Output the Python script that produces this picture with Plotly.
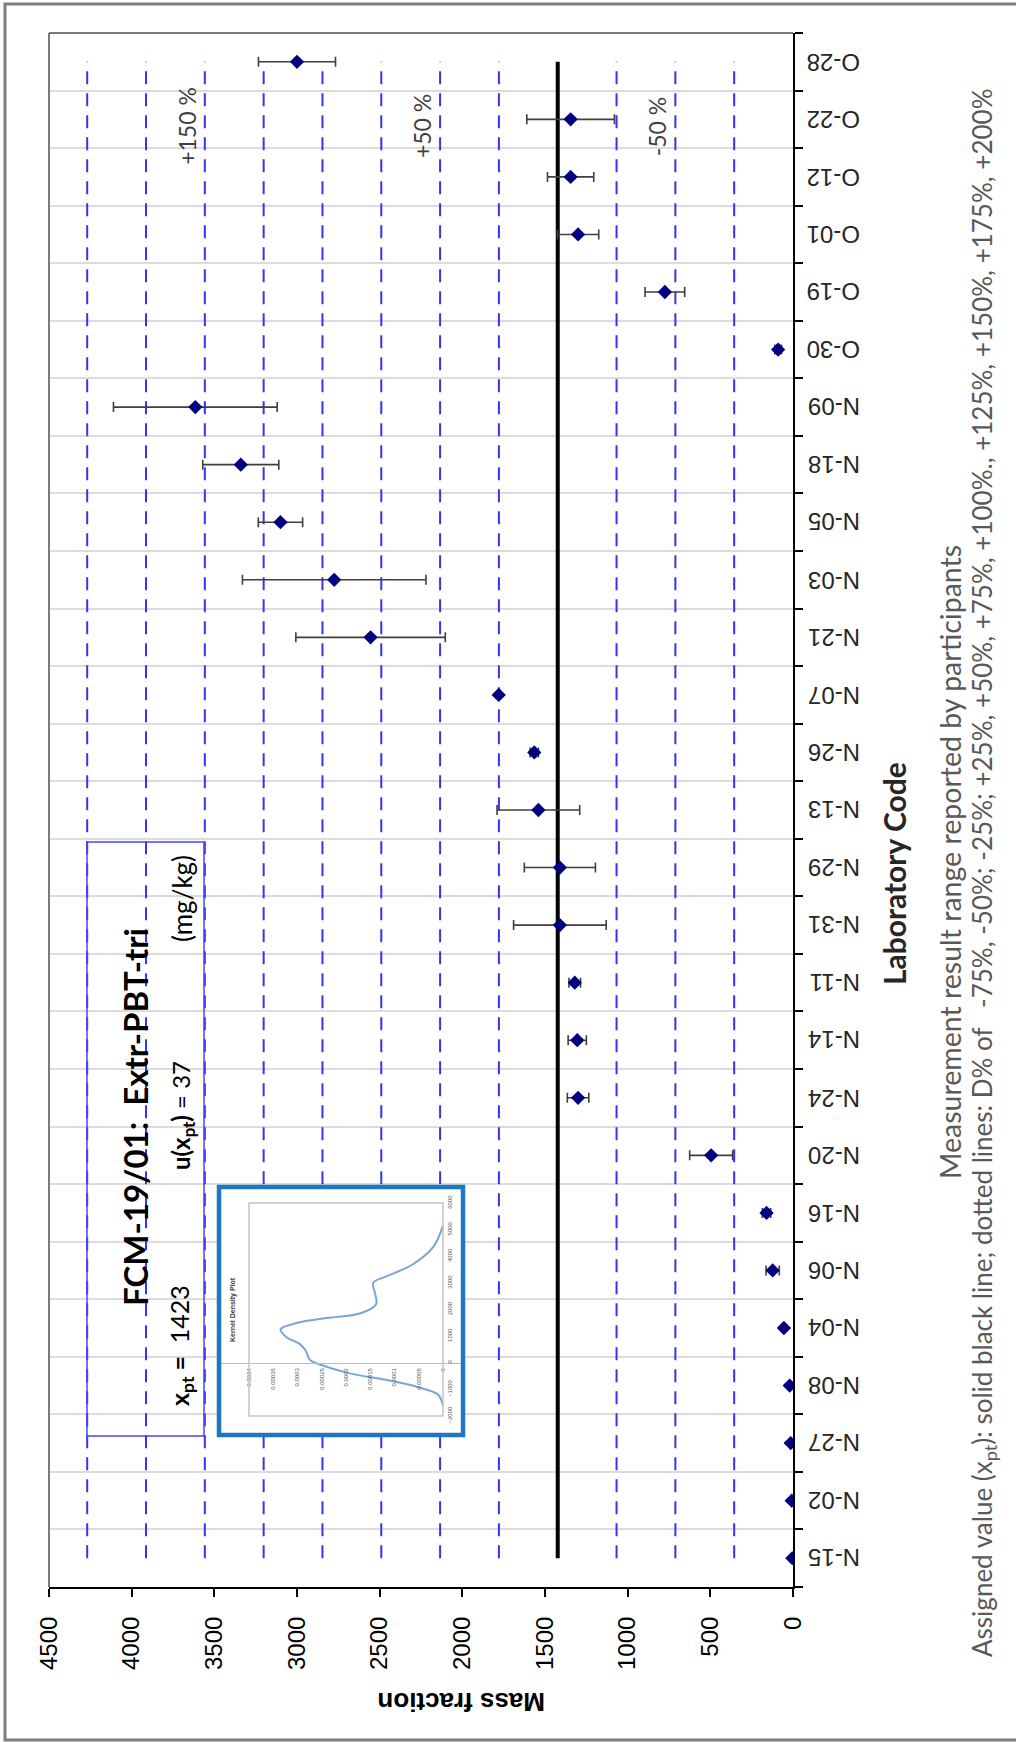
import plotly.graph_objects as go

# ---- data -------------------------------------------------------------
labs = ["N-15", "N-02", "N-27", "N-08", "N-04", "N-06", "N-16", "N-20", "N-24",
        "N-14", "N-11", "N-31", "N-29", "N-13", "N-26", "N-07", "N-21", "N-03",
        "N-05", "N-18", "N-09", "O-30", "O-19", "O-01", "O-12", "O-22", "O-28"]
results = [4, 8, 14, 20, 55, 123, 160, 495, 1300,
           1305, 1320, 1410, 1410, 1540, 1565, 1780, 2555, 2775,
           3100, 3340, 3615, 90, 775, 1300, 1345, 1345, 3000]
uncert = [0, 0, 0, 0, 0, 40, 25, 130, 65,
          55, 35, 280, 215, 250, 25, 0, 452, 555,
          134, 230, 495, 20, 120, 125, 140, 265, 233]
x_pt = 1423
u_xpt = 37
deviations = [-75, -50, -25, 25, 50, 75, 100, 125, 150, 175, 200]
labelled_devs = [150, 50, -50]
mass_ticks = list(range(0, 4501, 500))

# kernel density of the reported results (value, density)
kde_value = [-1600, -1200, -900, -650, -400, -150, 100, 450, 700, 950, 1250,
             1500, 1680, 1860, 2200, 2600, 3000, 3250, 3700, 4350, 5150]
kde_density = [0, 0.00001, 0.000054, 0.000116, 0.000192, 0.00024, 0.000274,
               0.000283, 0.000295, 0.000322, 0.000335, 0.0003, 0.00024,
               0.00017, 0.000138, 0.00014, 0.000144, 0.000116, 0.000062,
               0.00002, 0]
kde_value_ticks = list(range(-2000, 6001, 1000))
kde_density_ticks = [0, 0.00005, 0.0001, 0.00015, 0.0002, 0.00025, 0.0003,
                     0.00035, 0.0004]
kde_density_text = ["0", "0.00005", "0.0001", "0.00015", "0.0002", "0.00025",
                    "0.0003", "0.00035", "0.0004"]

# ---- geometry (pixels) --------------------------------------------------
W, H = 1016, 1742
L, R, T, B = 49, 793, 33, 1587


def px(x):
    return (x - L) / (R - L)


def py(y):
    return (B - y) / (B - T)


CAL = "Lato, Carlito, Calibri, sans-serif"
ARI = "Liberation Sans, Arial, sans-serif"
n = len(labs)

fig = go.Figure()

# percentage deviation lines
for d in deviations:
    fig.add_trace(go.Scatter(
        x=[x_pt * (1 + d / 100)] * n, y=labs, mode="lines",
        line=dict(color="#3434f4", width=2, dash="13px,9px"),
        hoverinfo="skip", showlegend=False))

# assigned value
fig.add_trace(go.Scatter(
    x=[x_pt] * n, y=labs, mode="lines",
    line=dict(color="black", width=4), hoverinfo="skip", showlegend=False))

# participant results
fig.add_trace(go.Scatter(
    x=results, y=labs, mode="markers",
    marker=dict(symbol="diamond", size=11, color="#000080"),
    error_x=dict(type="data", array=uncert, visible=True,
                 color="#3f3f3f", thickness=1.6, width=5),
    showlegend=False))

# inset: kernel density plot
fig.add_trace(go.Scatter(
    x=kde_density, y=kde_value, mode="lines", xaxis="x2", yaxis="y2",
    line=dict(color="#79a5d8", width=2, shape="spline", smoothing=1.0),
    hoverinfo="skip", showlegend=False))

# inset axis ranges, extended out to the inset frame
d_per_px = 0.0004 / (443 - 249)
v_per_px = 8000 / (1416 - 1203)
x2_range = [0.0004 + (249 - 219) * d_per_px, 0 - (463 - 443) * d_per_px]
y2_range = [-2000 - (1435 - 1416) * v_per_px, 6000 + (1203 - 1187) * v_per_px]
y2_dom = [py(1435), py(1187)]
zero_pos = y2_dom[0] + (0 - y2_range[0]) / (y2_range[1] - y2_range[0]) * (y2_dom[1] - y2_dom[0])

# text-box backdrop: keeps the category gridlines, hides the deviation lines
idx_per_px = 1 / ((B - T) / n)
y3_range = [(B - 1436) * idx_per_px - 0.5, (B - 842) * idx_per_px - 0.5]

fig.update_layout(
    width=W, height=H,
    margin=dict(l=L, r=W - R, t=T, b=H - B, pad=0),
    paper_bgcolor="white", plot_bgcolor="white",
    xaxis=dict(range=[4500, 0], tickvals=mass_ticks, ticks="outside",
               ticklen=8, tickwidth=2, tickcolor="black",
               showline=True, linecolor="black", linewidth=2,
               showgrid=False, zeroline=False, tickangle=-90,
               ticklabelstandoff=10,
               tickfont=dict(family=ARI, size=24, color="black")),
    yaxis=dict(type="category", categoryorder="array", categoryarray=labs,
               range=[-0.5, n - 0.5], side="right", tickson="boundaries",
               ticks="outside", ticklen=8, tickwidth=2, tickcolor="black",
               showline=True, linecolor="black", linewidth=2,
               showgrid=True, gridcolor="#dcdcdc", gridwidth=2,
               zeroline=False, showticklabels=False),
    xaxis2=dict(domain=[px(219), px(463)], range=x2_range, anchor="free",
                position=zero_pos, showgrid=False, zeroline=False,
                showline=True, linecolor="#bfbfbf", linewidth=1,
                tickvals=kde_density_ticks, ticktext=kde_density_text,
                ticks="", tickangle=-90, ticklabelstandoff=2,
                tickfont=dict(family=ARI, size=6, color="#595959")),
    yaxis2=dict(domain=y2_dom, range=y2_range, anchor="free",
                position=px(443), side="right", showgrid=False,
                zeroline=False, showline=False, tickvals=kde_value_ticks,
                ticks="", tickangle=-90, ticklabelstandoff=2,
                tickfont=dict(family=ARI, size=6, color="#595959")),
    xaxis3=dict(domain=[px(87), px(204)], range=[0, 1], anchor="y3",
                showgrid=False, zeroline=False, showline=False,
                showticklabels=False, ticks=""),
    yaxis3=dict(domain=[py(1436), py(842)], type="category",
                categoryorder="array", categoryarray=labs, range=y3_range,
                anchor="x3", tickson="boundaries", showgrid=True,
                gridcolor="#dcdcdc", gridwidth=2, zeroline=False,
                showline=False, showticklabels=False, ticks=""),
)

shapes = [
    # outer chart frame
    dict(type="rect", xref="paper", yref="paper", x0=px(5), x1=px(1030),
         y0=py(1740), y1=py(4), line=dict(color="#7f7f7f", width=3)),
    # plot-area frame (top and left)
    dict(type="line", xref="paper", yref="paper", x0=0, x1=1, y0=1, y1=1,
         line=dict(color="#7a7a7a", width=2)),
    dict(type="line", xref="paper", yref="paper", x0=0, x1=0, y0=0, y1=1,
         line=dict(color="#7a7a7a", width=2)),
    # text box
    dict(type="rect", xref="paper", yref="paper", x0=px(87), x1=px(204),
         y0=py(1436), y1=py(842), line=dict(color="#4646ff", width=1.5)),
    # inset frame and its plot area
    dict(type="rect", xref="paper", yref="paper", x0=px(219), x1=px(463),
         y0=py(1435), y1=py(1187), line=dict(color="#1f77c4", width=4.5)),
    dict(type="rect", xref="x2", yref="y2", x0=kde_density_ticks[-1],
         x1=kde_density_ticks[0], y0=kde_value_ticks[0],
         y1=kde_value_ticks[-1], line=dict(color="#c4c4c4", width=1.5)),
]
fig.update_layout(shapes=shapes)

ann = []
# laboratory codes, printed upside down beside the category axis
for lab in labs:
    ann.append(dict(x=px(862), xref="paper", y=lab, yref="y", text=lab,
                    showarrow=False, textangle=180, xanchor="right",
                    yanchor="middle",
                    font=dict(family=ARI, size=24, color="#262626")))

for d in labelled_devs:
    ann.append(dict(x=x_pt * (1 + d / 100), xref="x", y=py(126), yref="paper",
                    text=f"{d:+d} %", showarrow=False, textangle=-90,
                    xshift=-18, xanchor="center", yanchor="middle",
                    font=dict(family=CAL, size=23, color="#404040")))

texts = [
    dict(x=px(135), y=py(1117), text="<b>FCM-19/01:  Extr-PBT-tri</b>",
         font=dict(family=CAL, size=33, color="black")),
    dict(x=px(181), y=py(1346), text=f"<b>x<sub>pt</sub> =</b>  {x_pt}",
         font=dict(family=CAL, size=25, color="black")),
    dict(x=px(182), y=py(1116), text=f"<b>u(x<sub>pt</sub>)</b> = {u_xpt}",
         font=dict(family=CAL, size=24, color="black")),
    dict(x=px(182), y=py(899), text="(mg/kg)",
         font=dict(family=CAL, size=26, color="black")),
    dict(x=px(233), y=py(1310), text="<b>Kernel Density Plot</b>",
         font=dict(family=ARI, size=7, color="#404040")),
    dict(x=px(894), y=py(874), text="<b>Laboratory Code</b>",
         font=dict(family=CAL, size=30, color="#262626")),
    dict(x=px(950), y=py(862),
         text="Measurement result range reported by participants",
         font=dict(family=CAL, size=28.5, color="#595959")),
    dict(x=px(983), y=py(873),
         text="Assigned value (x<sub>pt</sub>): solid black line; dotted lines: "
              "D% of   -75%, -50%; -25%; +25%, +50%, +75%, +100%., +125%, "
              "+150%, +175%, +200%",
         font=dict(family=CAL, size=26, color="#595959")),
]
for a in texts:
    a.update(xref="paper", yref="paper", showarrow=False, textangle=-90,
             xanchor="center", yanchor="middle")
ann += texts

ann.append(dict(x=px(461), y=py(1702), xref="paper", yref="paper",
                text="<b>Mass fraction</b>", showarrow=False, textangle=180,
                xanchor="center", yanchor="middle",
                font=dict(family=ARI, size=26, color="black")))
fig.update_layout(annotations=ann)

fig.write_html("out.html")
